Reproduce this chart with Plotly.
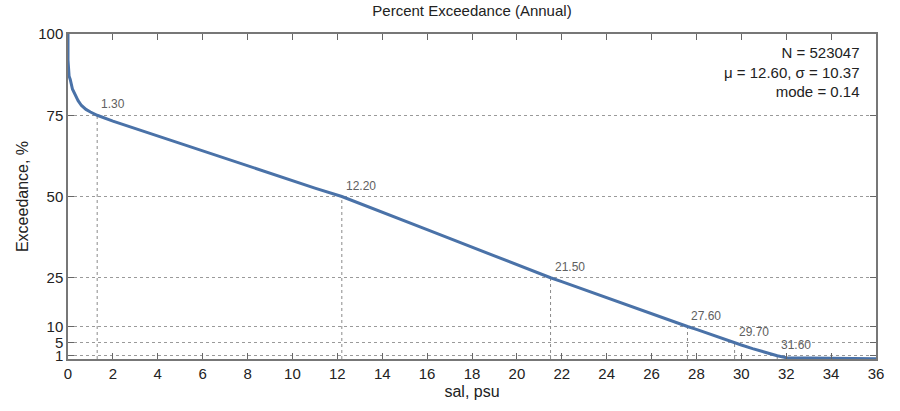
import plotly.graph_objects as go

# Curve data: salinity (psu) vs percent exceedance
sal = [0, 0.0, 0.05, 0.1, 0.2, 0.3, 0.45, 0.6, 0.8, 1.0, 1.3, 2, 3, 4, 5, 6, 7, 8, 9, 10, 11, 12.2,
       13, 14, 15, 16, 17, 18, 19, 20, 21.5, 22, 23, 24, 25, 26, 27.6, 28, 29, 29.7, 30, 30.5, 31,
       31.6, 32, 33, 34, 35, 36]
exceed = [100, 92, 87, 86, 83, 81.5, 79.5, 78, 76.8, 76, 75, 73.2, 70.9, 68.6, 66.3, 64, 61.8, 59.6,
          57.3, 55, 52.6, 50, 47.9, 45.2, 42.5, 39.8, 37.1, 34.4, 31.6, 28.9, 25, 23.8, 21.3, 18.8,
          16.3, 13.9, 10, 9.1, 6.6, 5, 4.3, 3.2, 2.1, 1, 0.4, 0.25, 0.2, 0.15, 0.1]

# Marked exceedance levels
level_pct = [75, 50, 25, 10, 5, 1]
level_sal = [1.30, 12.20, 21.50, 27.60, 29.70, 31.60]

y_ticks = [1, 5, 10, 25, 50, 75, 100]
x_ticks = list(range(0, 37, 2))

stats_lines = ["N = 523047", "\u03bc = 12.60, \u03c3 = 10.37", "mode = 0.14"]

FONT = "Liberation Sans, Arial"

fig = go.Figure()

# vertical dotted guide lines
for xs, yp in zip(level_sal, level_pct):
    fig.add_trace(go.Scatter(x=[xs, xs], y=[0, yp], mode="lines",
                             line=dict(color="#8a8a8a", width=1, dash="dot"),
                             hoverinfo="skip", showlegend=False))

fig.add_trace(go.Scatter(x=sal, y=exceed, mode="lines",
                         line=dict(color="#4a72a8", width=3),
                         showlegend=False))

for xs, yp in zip(level_sal, level_pct):
    fig.add_annotation(x=xs, y=yp, text=f"{xs:.2f}", showarrow=False,
                       xanchor="left", yanchor="bottom", xshift=2, yshift=2,
                       font=dict(family=FONT, size=12, color="#606060"))

fig.add_annotation(xref="paper", yref="paper", x=0.983, y=0.975,
                   text="<br>".join(stats_lines), showarrow=False,
                   xanchor="right", yanchor="top", align="right",
                   font=dict(family=FONT, size=15, color="#222222"))

fig.update_layout(
    width=900, height=411,
    margin=dict(l=68, r=24, t=34, b=52),
    paper_bgcolor="white", plot_bgcolor="white",
    title=dict(text="Percent Exceedance (Annual)", x=0.5, xref="paper", xanchor="center",
               y=1, yref="container", yanchor="top", pad=dict(t=5),
               font=dict(family=FONT, size=15, color="#222222")),
    font=dict(family=FONT, size=15, color="#222222"),
)
fig.update_xaxes(range=[0, 36], tickvals=x_ticks, ticks="inside", ticklen=6, tickcolor="#666666",
                 showline=True, linecolor="#777777", linewidth=1.5, mirror="ticks",
                 showgrid=False, zeroline=False,
                 title=dict(text="sal, psu", font=dict(size=16), standoff=5))
fig.update_yaxes(range=[0, 100], tickvals=y_ticks, ticks="inside", ticklen=6, tickcolor="#666666",
                 showline=True, linecolor="#777777", linewidth=1.5, mirror="ticks",
                 showgrid=True, gridcolor="#9a9a9a", griddash="dot", gridwidth=1,
                 zeroline=False,
                 title=dict(text="Exceedance, %", font=dict(size=16), standoff=6))

fig.write_html("out.html")
